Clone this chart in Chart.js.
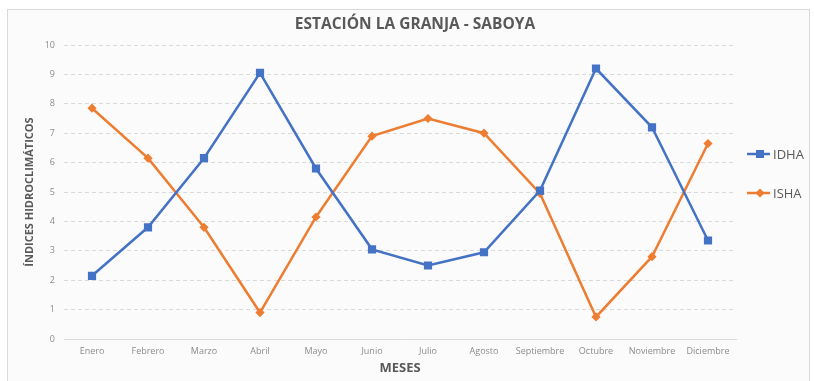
<!DOCTYPE html>
<html>
<head>
<meta charset="utf-8">
<script src="https://cdn.jsdelivr.net/npm/chart.js@4.4.1/dist/chart.umd.min.js"></script>
<style>
  html, body { margin: 0; padding: 0; background: #ffffff; }
  #wrap { position: relative; width: 814px; height: 381px; overflow: hidden; }
  #frame { position: absolute; left: 7px; top: 9px; width: 801px; height: 380px;
           border: 1px solid #d9d9d9; background: #fbfbfb; }
  #c { position: absolute; left: 0; top: 0; }
</style>
</head>
<body>
<div id="wrap">
  <div id="frame"></div>
  <canvas id="c" width="814" height="381"></canvas>
</div>
<script>
// Monthly hydroclimatic indices, La Granja - Saboya station
const meses = ['Enero', 'Febrero', 'Marzo', 'Abril', 'Mayo', 'Junio', 'Julio',
               'Agosto', 'Septiembre', 'Octubre', 'Noviembre', 'Diciembre'];
const idha = [2.15, 3.8, 6.15, 9.05, 5.8, 3.05, 2.5, 2.95, 5.05, 9.2, 7.2, 3.35];
const isha = [7.85, 6.15, 3.8, 0.9, 4.15, 6.9, 7.5, 7.0, 4.95, 0.75, 2.8, 6.65];
const yTicks = [0, 1, 2, 3, 4, 5, 6, 7, 8, 9, 10];

const AZUL = '#4472C4';
const NARANJA = '#ED7D31';
const TEXTO = '#595959';
const GRIS = '#8c8c8c';
const REJILLA = '#d9d9d9';

// Title and legend drawn on the canvas
const decor = {
  id: 'decor',
  afterDraw(chart) {
    const ctx = chart.ctx;
    ctx.save();
    ctx.fillStyle = TEXTO;
    ctx.font = 'bold 15.5px "Open Sans", sans-serif';
    ctx.textAlign = 'center';
    ctx.textBaseline = 'middle';
    ctx.fillText('ESTACIÓN LA GRANJA - SABOYA', 415, 25);

    // legend: line sample with marker, then label
    const items = chart.data.datasets;
    const ys = [154, 193];
    items.forEach((ds, i) => {
      const y = ys[i];
      ctx.strokeStyle = ds.borderColor;
      ctx.lineWidth = 2.5;
      ctx.beginPath();
      ctx.moveTo(747, y);
      ctx.lineTo(770, y);
      ctx.stroke();
      ctx.fillStyle = ds.backgroundColor;
      ctx.beginPath();
      const cx = 760;
      if (ds.pointStyle === 'rect') {
        ctx.rect(cx - 4, y - 4, 8, 8);
      } else {
        ctx.moveTo(cx - 4.5, y); ctx.lineTo(cx, y - 4.5);
        ctx.lineTo(cx + 4.5, y); ctx.lineTo(cx, y + 4.5);
        ctx.closePath();
      }
      ctx.fill();
      ctx.fillStyle = TEXTO;
      ctx.font = '13px "Open Sans", sans-serif';
      ctx.textAlign = 'left';
      ctx.fillText(ds.label, 773, y + 1);
    });
    ctx.restore();
  }
};

new Chart(document.getElementById('c'), {
  type: 'line',
  data: {
    labels: meses,
    datasets: [
      {
        label: 'IDHA', data: idha,
        borderColor: AZUL, backgroundColor: AZUL, borderWidth: 2.5,
        pointStyle: 'rect', pointRadius: 5.8, pointHoverRadius: 5.8,
        pointBorderWidth: 0, tension: 0
      },
      {
        label: 'ISHA', data: isha,
        borderColor: NARANJA, backgroundColor: NARANJA, borderWidth: 2.5,
        pointStyle: 'rectRot', pointRadius: 4.6, pointHoverRadius: 4.6,
        pointBorderWidth: 0, tension: 0
      }
    ]
  },
  options: {
    responsive: false,
    animation: false,
    events: [],
    layout: { padding: { top: 45, right: 78, left: 0, bottom: 0 } },
    plugins: {
      legend: { display: false },
      title: { display: false },
      tooltip: { enabled: false }
    },
    scales: {
      x: {
        offset: true,
        grid: { display: false },
        border: { display: true, color: REJILLA, width: 1 },
        ticks: { color: GRIS, font: { family: '"Open Sans", sans-serif', size: 9 },
                 padding: -1, maxRotation: 0, autoSkip: false },
        title: { display: true, text: 'MESES', color: TEXTO,
                 font: { family: '"Open Sans", sans-serif', size: 13, weight: 'bold' },
                 padding: { bottom: 5 } },
        afterFit(s) { s.height = 42; }
      },
      y: {
        min: 0, max: 10,
        afterBuildTicks(s) { s.ticks = yTicks.map(v => ({ value: v })); },
        grid: {
          drawTicks: false, lineWidth: 1,
          color: c => (c.tick && c.tick.value === 0) ? 'rgba(0,0,0,0)' : REJILLA
        },
        border: { display: false, dash: [4, 3] },
        ticks: { color: GRIS, font: { family: '"Open Sans", sans-serif', size: 9 }, padding: 9 },
        title: { display: true, text: 'ÍNDICES HIDROCLIMÁTICOS', color: TEXTO,
                 font: { family: '"Open Sans", sans-serif', size: 11, weight: 'bold' },
                 padding: { top: 23 } },
        afterFit(s) { s.width = 64; }
      }
    }
  },
  plugins: [decor]
});
</script>
</body>
</html>
